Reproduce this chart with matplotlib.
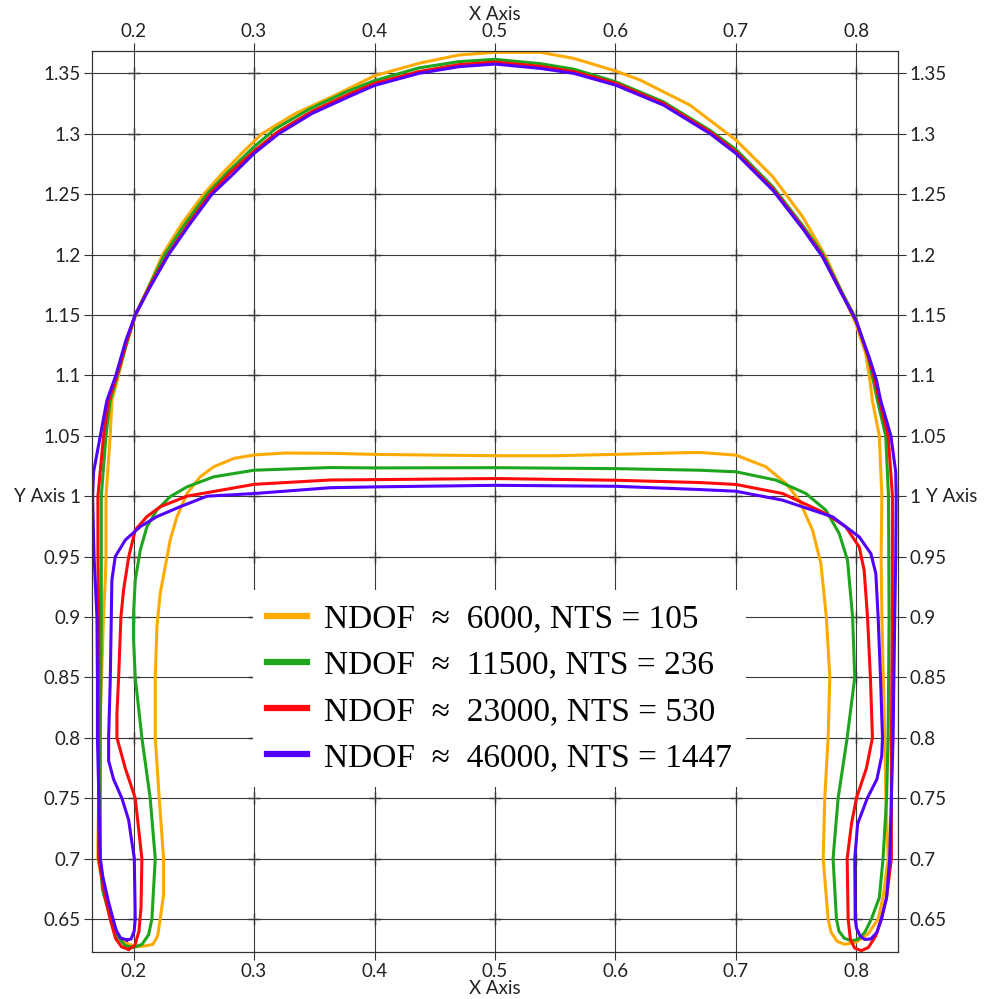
import numpy as np
import matplotlib.pyplot as plt

# contour points; each loop goes outer left -> top arc -> outer right -> inner right -> inner top -> inner left
orange_x = [0.2030, 0.1960, 0.1900, 0.1850, 0.1820, 0.1760, 0.1704, 0.1704, 0.1710, 0.1715, 0.1735, 0.1750, 0.1765, 0.1771,
            0.1771, 0.1806, 0.1820, 0.1875, 0.1945, 0.2019, 0.2125, 0.2241, 0.2402, 0.2582, 0.2735, 0.2900, 0.3066, 0.3343,
            0.3648, 0.4000, 0.4368, 0.4700, 0.5000, 0.5377, 0.5653, 0.6000, 0.6204, 0.6397, 0.6617, 0.6782, 0.7000, 0.7306,
            0.7554, 0.7747, 0.7884, 0.7995, 0.8077, 0.8111, 0.8132, 0.8190, 0.8211, 0.8205, 0.8211, 0.8235, 0.8245, 0.8263,
            0.8220, 0.8180, 0.8100, 0.8000, 0.7903, 0.7840, 0.7790, 0.7765, 0.7724, 0.7737, 0.7765, 0.7779, 0.7750, 0.7705,
            0.7636, 0.7525, 0.7415, 0.7249, 0.7000, 0.6696, 0.6577, 0.6000, 0.5500, 0.5000, 0.4500, 0.4000, 0.3631, 0.3251,
            0.3000, 0.2834, 0.2664, 0.2553, 0.2443, 0.2360, 0.2304, 0.2263, 0.2221, 0.2194, 0.2180, 0.2180, 0.2213, 0.2249,
            0.2249, 0.2221, 0.2200, 0.2160, 0.2100, 0.2030]
orange_y = [0.6272, 0.6290, 0.6335, 0.6410, 0.6500, 0.6700, 0.7000, 0.7137, 0.7500, 0.8000, 0.8500, 0.9000, 0.9300, 0.9500,
            1.0000, 1.0500, 1.0793, 1.1000, 1.1290, 1.1500, 1.1732, 1.2000, 1.2257, 1.2500, 1.2671, 1.2840, 1.3000, 1.3168,
            1.3307, 1.3480, 1.3583, 1.3652, 1.3674, 1.3674, 1.3624, 1.3520, 1.3445, 1.3348, 1.3238, 1.3113, 1.2948, 1.2644,
            1.2312, 1.1980, 1.1677, 1.1428, 1.1180, 1.0965, 1.0793, 1.0500, 1.0000, 0.9500, 0.9000, 0.8000, 0.7500, 0.7000,
            0.6677, 0.6500, 0.6380, 0.6310, 0.6290, 0.6315, 0.6390, 0.6500, 0.7000, 0.7500, 0.8000, 0.8500, 0.9000, 0.9442,
            0.9718, 0.9967, 1.0105, 1.0243, 1.0340, 1.0362, 1.0360, 1.0346, 1.0335, 1.0335, 1.0340, 1.0346, 1.0355, 1.0357,
            1.0341, 1.0313, 1.0243, 1.0160, 1.0022, 0.9829, 0.9638, 0.9417, 0.9197, 0.8920, 0.8500, 0.8000, 0.7500, 0.7000,
            0.6700, 0.6500, 0.6360, 0.6290, 0.6278, 0.6272]

green_x = [0.2000, 0.1930, 0.1870, 0.1810, 0.1740, 0.1724, 0.1724, 0.1732, 0.1732, 0.1771, 0.1806, 0.1867, 0.1945, 0.2014,
           0.2135, 0.2258, 0.2430, 0.2609, 0.2770, 0.3000, 0.3175, 0.3460, 0.3760, 0.4000, 0.4368, 0.4700, 0.5000, 0.5377,
           0.5653, 0.6000, 0.6397, 0.6782, 0.7000, 0.7306, 0.7554, 0.7719, 0.7884, 0.7995, 0.8095, 0.8138, 0.8174, 0.8243,
           0.8266, 0.8271, 0.8263, 0.8250, 0.8221, 0.8190, 0.8124, 0.8070, 0.8010, 0.7959, 0.7900, 0.7855, 0.7834, 0.7806,
           0.7848, 0.7923, 0.7986, 0.7968, 0.7926, 0.7857, 0.7746, 0.7581, 0.7332, 0.7000, 0.6696, 0.6000, 0.5000, 0.4000,
           0.3631, 0.3000, 0.2664, 0.2443, 0.2304, 0.2194, 0.2111, 0.2056, 0.2014, 0.2000, 0.2000, 0.2014, 0.2069, 0.2138,
           0.2180, 0.2152, 0.2125, 0.2070, 0.2000]
green_y = [0.6265, 0.6280, 0.6350, 0.6500, 0.6750, 0.7000, 0.8000, 0.9000, 1.0000, 1.0500, 1.0793, 1.1000, 1.1270, 1.1500,
           1.1750, 1.2000, 1.2257, 1.2500, 1.2671, 1.2892, 1.3040, 1.3205, 1.3345, 1.3440, 1.3545, 1.3597, 1.3616, 1.3580,
           1.3535, 1.3431, 1.3265, 1.3030, 1.2870, 1.2561, 1.2240, 1.2008, 1.1680, 1.1470, 1.1160, 1.0965, 1.0793, 1.0500,
           1.0000, 0.9000, 0.8000, 0.7500, 0.7000, 0.6677, 0.6500, 0.6390, 0.6330, 0.6320, 0.6340, 0.6400, 0.6500, 0.7000,
           0.7500, 0.8000, 0.8500, 0.9000, 0.9470, 0.9691, 0.9884, 1.0022, 1.0133, 1.0202, 1.0215, 1.0228, 1.0236, 1.0234,
           1.0237, 1.0215, 1.0160, 1.0077, 0.9996, 0.9886, 0.9748, 0.9555, 0.9306, 0.9031, 0.8810, 0.8500, 0.8000, 0.7500,
           0.7000, 0.6500, 0.6370, 0.6290, 0.6265]

red_x = [0.1959, 0.1900, 0.1850, 0.1806, 0.1765, 0.1710, 0.1710, 0.1710, 0.1710, 0.1704, 0.1704, 0.1751, 0.1793, 0.1862,
         0.1940, 0.2014, 0.2135, 0.2285, 0.2462, 0.2637, 0.2800, 0.3000, 0.3195, 0.3480, 0.3780, 0.4000, 0.4368, 0.4700,
         0.5000, 0.5377, 0.5653, 0.6000, 0.6397, 0.6782, 0.7000, 0.7306, 0.7554, 0.7719, 0.7884, 0.7995, 0.8100, 0.8152,
         0.8190, 0.8263, 0.8299, 0.8298, 0.8290, 0.8290, 0.8250, 0.8207, 0.8160, 0.8100, 0.8041, 0.7985, 0.7950, 0.7931,
         0.7923, 0.7959, 0.8000, 0.8083, 0.8133, 0.8116, 0.8092, 0.8064, 0.8023, 0.7912, 0.7746, 0.7387, 0.7000, 0.6696,
         0.6000, 0.5000, 0.4000, 0.3631, 0.3000, 0.2443, 0.2222, 0.2111, 0.2014, 0.1960, 0.1917, 0.1895, 0.1876, 0.1862,
         0.1862, 0.1931, 0.2014, 0.2069, 0.2062, 0.2045, 0.2010, 0.1959]
red_y = [0.6249, 0.6270, 0.6340, 0.6500, 0.6677, 0.7000, 0.7500, 0.8000, 0.9000, 0.9500, 1.0000, 1.0500, 1.0793, 1.1000,
         1.1270, 1.1500, 1.1740, 1.2000, 1.2262, 1.2505, 1.2676, 1.2856, 1.3015, 1.3185, 1.3325, 1.3417, 1.3515, 1.3572,
         1.3594, 1.3558, 1.3515, 1.3418, 1.3252, 1.3018, 1.2852, 1.2545, 1.2225, 1.1990, 1.1668, 1.1460, 1.1152, 1.0965,
         1.0793, 1.0500, 1.0000, 0.9000, 0.8000, 0.7000, 0.6677, 0.6500, 0.6360, 0.6265, 0.6238, 0.6260, 0.6330, 0.6500,
         0.7000, 0.7288, 0.7500, 0.7749, 0.8000, 0.8500, 0.9000, 0.9387, 0.9580, 0.9746, 0.9856, 1.0022, 1.0097, 1.0113,
         1.0132, 1.0146, 1.0137, 1.0134, 1.0098, 1.0000, 0.9913, 0.9831, 0.9720, 0.9500, 0.9223, 0.9000, 0.8500, 0.8200,
         0.8000, 0.7749, 0.7500, 0.7000, 0.6600, 0.6400, 0.6280, 0.6249]

purple_x = [0.1945, 0.1890, 0.1855, 0.1830, 0.1790, 0.1745, 0.1724, 0.1712, 0.1700, 0.1700, 0.1696, 0.1672, 0.1660, 0.1668,
            0.1724, 0.1778, 0.1853, 0.1936, 0.2014, 0.2138, 0.2291, 0.2470, 0.2651, 0.2815, 0.3000, 0.3205, 0.3482, 0.3787,
            0.4000, 0.4368, 0.4700, 0.5000, 0.5377, 0.5653, 0.6000, 0.6397, 0.6782, 0.7000, 0.7306, 0.7554, 0.7719, 0.7884,
            0.7995, 0.8105, 0.8165, 0.8201, 0.8286, 0.8326, 0.8330, 0.8326, 0.8318, 0.8304, 0.8290, 0.8276, 0.8250, 0.8207,
            0.8170, 0.8120, 0.8069, 0.8030, 0.8000, 0.7990, 0.7986, 0.8010, 0.8090, 0.8170, 0.8210, 0.8216, 0.8200, 0.8180,
            0.8161, 0.8120, 0.8023, 0.7802, 0.7387, 0.7000, 0.6696, 0.6000, 0.5000, 0.4000, 0.3631, 0.3000, 0.2609, 0.2387,
            0.2194, 0.2056, 0.1932, 0.1848, 0.1820, 0.1815, 0.1807, 0.1793, 0.1793, 0.1834, 0.1903, 0.1959, 0.2006, 0.2014,
            0.2005, 0.1980, 0.1945]
purple_y = [0.6326, 0.6345, 0.6410, 0.6500, 0.6650, 0.6850, 0.7000, 0.7500, 0.8000, 0.8500, 0.9000, 0.9500, 1.0000, 1.0200,
            1.0500, 1.0790, 1.1000, 1.1290, 1.1500, 1.1732, 1.2000, 1.2257, 1.2500, 1.2655, 1.2837, 1.3000, 1.3168, 1.3307,
            1.3400, 1.3500, 1.3555, 1.3577, 1.3541, 1.3500, 1.3403, 1.3238, 1.3003, 1.2837, 1.2533, 1.2215, 1.1980, 1.1663,
            1.1456, 1.1152, 1.0965, 1.0793, 1.0500, 1.0200, 1.0000, 0.9500, 0.9000, 0.8000, 0.7500, 0.7000, 0.6677, 0.6500,
            0.6390, 0.6335, 0.6331, 0.6360, 0.6425, 0.6500, 0.7000, 0.7288, 0.7500, 0.7657, 0.7850, 0.8000, 0.8500, 0.9000,
            0.9359, 0.9525, 0.9663, 0.9829, 0.9967, 1.0041, 1.0055, 1.0082, 1.0090, 1.0077, 1.0070, 1.0022, 1.0000, 0.9913,
            0.9831, 0.9748, 0.9638, 0.9500, 0.9306, 0.9000, 0.8500, 0.8000, 0.7810, 0.7657, 0.7500, 0.7320, 0.7000, 0.6500,
            0.6400, 0.6335, 0.6326]

labels = ["NDOF  \u2248  6000, NTS = 105",
          "NDOF  \u2248  11500, NTS = 236",
          "NDOF  \u2248  23000, NTS = 530",
          "NDOF  \u2248  46000, NTS = 1447"]
colors = ["#FFAA00", "#1DA51D", "#FF0A0A", "#5200FF"]

x_ticks = [0.2, 0.3, 0.4, 0.5, 0.6, 0.7, 0.8]
y_ticks = [0.65, 0.7, 0.75, 0.8, 0.85, 0.9, 0.95, 1.0, 1.05, 1.1, 1.15, 1.2, 1.25, 1.3, 1.35]

plt.rcParams['font.family'] = ['Lato', 'DejaVu Sans']

fig = plt.figure(figsize=(9.84, 9.99), dpi=100)
ax = fig.add_axes([92 / 984, 1 - 952 / 999, 806 / 984, 901 / 999])

# grid with the faint blurred crosses at each node
for xv in x_ticks:
    ax.axvline(xv, color='#3a3a3a', lw=0.8, zorder=0)
for yv in y_ticks:
    ax.axhline(yv, color='#3a3a3a', lw=0.8, zorder=0)
gx, gy = np.meshgrid(x_ticks, y_ticks)
ax.plot(gx.ravel(), gy.ravel(), '+', color='#333333', ms=9, mew=1.8, alpha=0.3, zorder=0.5)

curves = [(orange_x, orange_y), (green_x, green_y), (red_x, red_y), (purple_x, purple_y)]
for (cx, cy), c, lab in zip(curves, colors, labels):
    ax.plot(cx, cy, color=c, lw=2.2, label=lab, solid_joinstyle='round', zorder=2)

ax.set_xlim(0.1655, 0.8345)
ax.set_ylim(0.6227, 1.3685)
ax.set_xticks(x_ticks)
ax.set_yticks(y_ticks)
ax.set_xticklabels(['%g' % v for v in x_ticks])
ax.set_yticklabels(['%g' % v for v in y_ticks])
ax.tick_params(axis='both', which='both', direction='out', length=6, width=0.8, color='#333333',
               top=True, labeltop=True, right=True, labelright=True,
               labelsize=13.5, labelcolor='#222222', pad=2)
for s in ax.spines.values():
    s.set_linewidth(0.9)
    s.set_color('#333333')

fig.text(495 / 984, 1 - 15 / 999, 'X Axis', ha='center', va='center', fontsize=13.5, color='#222222')
fig.text(495 / 984, 1 - 988 / 999, 'X Axis', ha='center', va='center', fontsize=13.5, color='#222222')
fig.text(40 / 984, 1 - 497 / 999, 'Y Axis', ha='center', va='center', fontsize=13.5, color='#222222')
fig.text(952 / 984, 1 - 497 / 999, 'Y Axis', ha='center', va='center', fontsize=13.5, color='#222222')

leg = ax.legend(loc='upper left', bbox_to_anchor=(253 / 984, 1 - 590 / 999), bbox_transform=fig.transFigure,
                prop={'family': ['Liberation Serif', 'DejaVu Serif'], 'size': 24},
                handlelength=1.2, handletextpad=0.5, labelspacing=0.47, borderpad=0.42,
                borderaxespad=0, frameon=True, fancybox=False, framealpha=1, edgecolor='none', facecolor='white')
for h in leg.get_lines():
    h.set_linewidth(4.5)

fig.savefig('out.png', dpi=100)
